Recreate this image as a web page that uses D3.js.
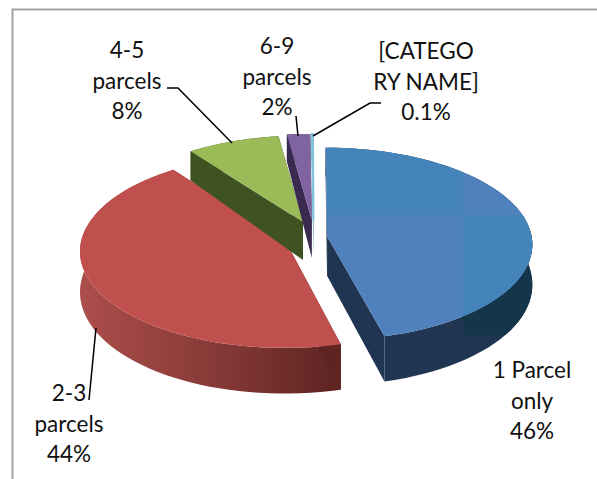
<!DOCTYPE html>
<html>
<head>
<meta charset="utf-8">
<script src="https://cdn.jsdelivr.net/npm/d3@7"></script>
<style>
  html, body { margin: 0; padding: 0; background: #fff; }
  svg { display: block; }
  text { font-family: Lato, "Open Sans", sans-serif; font-size: 22.5px; fill: #111; text-anchor: middle; }
</style>
</head>
<body>
<div id="chart"></div>
<script>
// Chart data
const categories = ['1 Parcel only', '2-3 parcels', '4-5 parcels', '6-9 parcels', '[CATEGORY NAME]'];
const percents = [46, 44, 8, 2, 0.1];
const percentLabels = ['46%', '44%', '8%', '2%', '0.1%'];
const labelLines = [
  ['1 Parcel', 'only'],
  ['2-3', 'parcels'],
  ['4-5', 'parcels'],
  ['6-9', 'parcels'],
  ['[CATEGO', 'RY NAME]']
];

// Layout, one entry per category
const explodeX = [0.098, -0.1, -0.02, 0.024, 0.032];
const explodeZ = [-0.03, 0.04, -0.18, -0.2, -0.2];
const topColors = ['#4f81bd', '#c0504d', '#9bbb59', '#8064a2', '#7fc4dc'];
const wallColors = ['#1f3552', '#5f2422', '#3f5222', '#3a2a50', '#2e7f98'];
const labelPos = [[532, 378], [69, 401], [127, 58], [277, 54], [426, 59]];
const leaders = [
  null,
  [[89, 400], [96, 328]],
  [[167, 88], [178, 88], [232, 143]],
  [[296, 116], [298, 136]],
  [[381, 103], [370, 103], [313, 136]]
];
const drawOrder = [1, 2, 3, 4, 0];

const width = 597;
const height = 479;
const perspective = 0.08;

const svg = d3.select('#chart').append('svg')
  .attr('width', width)
  .attr('height', height);

// Ground plane (unit radius) to screen
const xScale = d3.scaleLinear().domain([-1, 1]).range([102, 512]);
const yScale = d3.scaleLinear().domain([-1, 1]).range([143, 335]);

function project(X, Z) {
  const w = 1 / (1 - perspective * Z);
  return [xScale(X * w), yScale(Z * w)];
}

// Wall height shrinks towards the back of the pie
function wallHeight(Z) {
  return Z < 0 ? 40 + 11 * Z : 40 + 5.5 * Z;
}

const linePath = d3.line();
const defs = svg.append('defs');

// Wall gradient for the red slice
const redWall = defs.append('linearGradient')
  .attr('id', 'redWall')
  .attr('gradientUnits', 'userSpaceOnUse')
  .attr('x1', 85).attr('x2', 344).attr('y1', 0).attr('y2', 0);
redWall.append('stop').attr('offset', 0).attr('stop-color', '#ab4d4a');
redWall.append('stop').attr('offset', 0.45).attr('stop-color', '#8a3c39');
redWall.append('stop').attr('offset', 1).attr('stop-color', '#5c2321');

const arcs = d3.pie().sort(null)(percents);

function drawSlice(i) {
  const arc = arcs[i];
  const ox = explodeX[i];
  const oz = explodeZ[i];
  const steps = d3.range(0, 61).map(k => arc.startAngle + (arc.endAngle - arc.startAngle) * k / 60);
  const rim = steps.map(a => [ox + Math.sin(a), oz - Math.cos(a)]);
  const g = svg.append('g').attr('class', 'slice');
  const wallFill = i === 1 ? 'url(#redWall)' : wallColors[i];

  const down = ([X, Z]) => {
    const p = project(X, Z);
    return [p[0], p[1] + wallHeight(Z)];
  };

  // Outer wall, the back part ends up under the top face
  const band = rim.map(p => project(p[0], p[1])).concat(rim.slice().reverse().map(down));
  g.append('path')
    .attr('d', linePath(band) + 'Z')
    .attr('fill', wallFill);

  // Darker tile on the blue wall
  if (i === 0) {
    defs.append('clipPath').attr('id', 'blueBand').append('path').attr('d', linePath(band) + 'Z');
    g.append('g').attr('clip-path', 'url(#blueBand)')
      .append('rect').attr('x', 463).attr('y', 215).attr('width', 80).attr('height', 120).attr('fill', '#15354b');
  }

  // Cut walls
  const apex = [ox, oz];
  [rim[0], rim[rim.length - 1]].forEach(edge => {
    g.append('path')
      .attr('d', linePath([project(apex[0], apex[1]), project(edge[0], edge[1]), down(edge), down(apex)]) + 'Z')
      .attr('fill', i === 1 ? '#5f2422' : wallColors[i]);
  });

  // Top face
  const face = [project(apex[0], apex[1])].concat(rim.map(p => project(p[0], p[1])));
  g.append('path')
    .attr('d', linePath(face) + 'Z')
    .attr('fill', topColors[i])
    .attr('stroke', i === 4 ? topColors[i] : 'none')
    .attr('stroke-width', i === 4 ? 2 : 0);

  // Tile tint on the blue face, same as in the source picture
  if (i === 0) {
    defs.append('clipPath').attr('id', 'blueFace').append('path').attr('d', linePath(face) + 'Z');
    const tint = g.append('g').attr('clip-path', 'url(#blueFace)');
    tint.append('rect').attr('x', 327).attr('y', 140).attr('width', 136).attr('height', 75).attr('fill', '#4584b9');
    tint.append('rect').attr('x', 463).attr('y', 215).attr('width', 80).attr('height', 100).attr('fill', '#4584b9');
  }
}

function drawFrame() {
  svg.append('path')
    .attr('d', linePath([[12.5, height], [12.5, 9.5], [width, 9.5]]))
    .attr('fill', 'none')
    .attr('stroke', '#a3a3a3')
    .attr('stroke-width', 2);
}

function drawLabels() {
  categories.forEach((name, i) => {
    const lines = labelLines[i].concat(percentLabels[i]);
    const t = svg.append('text').attr('class', 'label').attr('aria-label', name);
    lines.forEach((line, k) => {
      t.append('tspan')
        .attr('x', labelPos[i][0])
        .attr('y', labelPos[i][1] + k * 30.5)
        .text(line);
    });
    if (leaders[i]) {
      svg.append('path')
        .attr('d', linePath(leaders[i]))
        .attr('fill', 'none')
        .attr('stroke', '#000')
        .attr('stroke-width', 1.5);
    }
  });
}

drawFrame();
drawOrder.forEach(drawSlice);
drawLabels();
</script>
</body>
</html>
